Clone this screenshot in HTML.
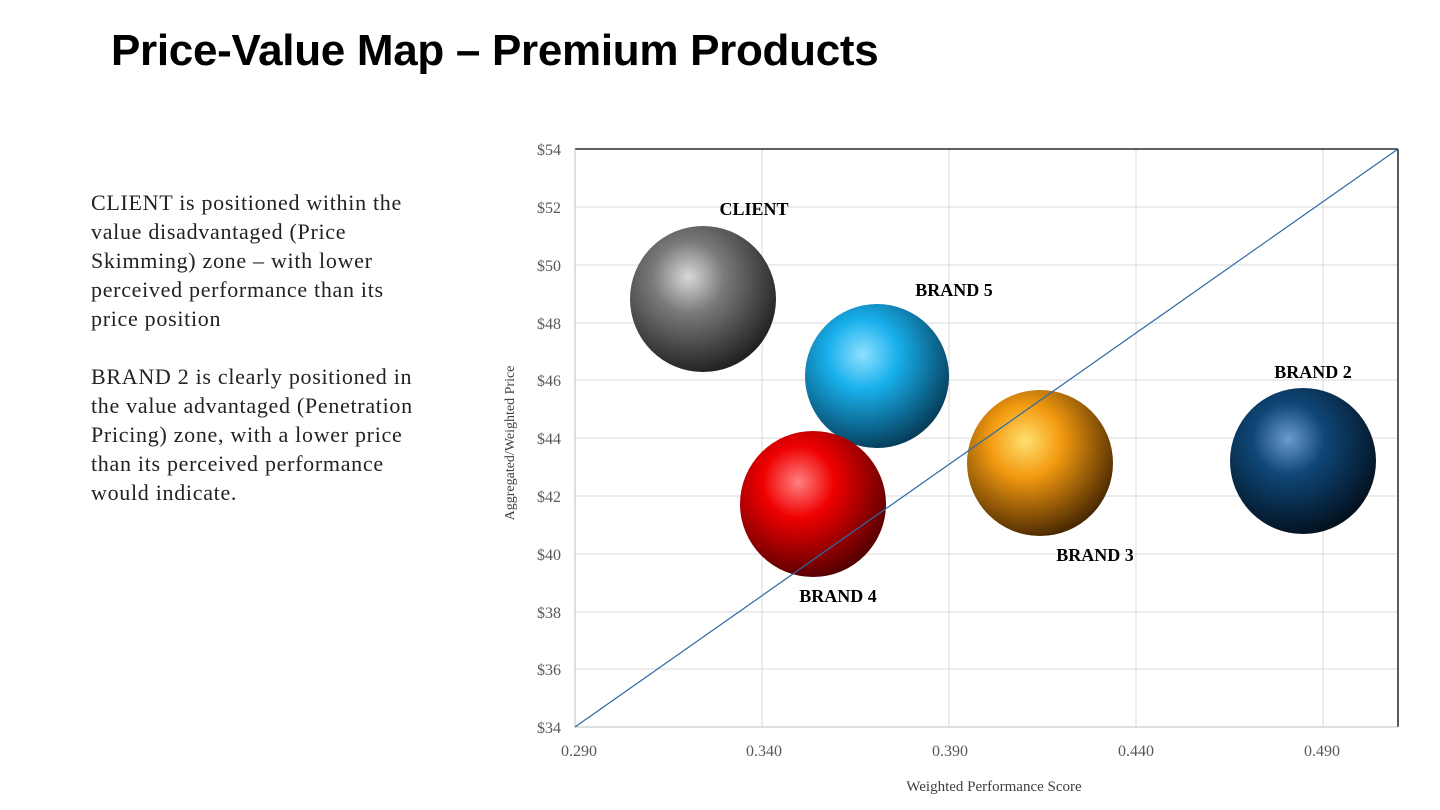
<!DOCTYPE html>
<html><head><meta charset="utf-8"><style>
html,body{margin:0;padding:0;background:#fff;width:1440px;height:810px;overflow:hidden}
.title{position:absolute;left:111px;top:26px;font:bold 44px "Liberation Sans",sans-serif;color:#000;letter-spacing:-0.3px}
.body{position:absolute;left:91px;top:188px;width:420px;font:22px/29px "Liberation Serif",serif;color:#222;letter-spacing:0.7px;white-space:nowrap}
.body p{margin:0 0 29px 0}
</style></head><body>
<div class="title">Price-Value Map – Premium Products</div>
<div class="body">
<p>CLIENT is positioned within the<br>value disadvantaged (Price<br>Skimming) zone – with lower<br>perceived performance than its<br>price position</p>
<p>BRAND 2 is clearly positioned in<br>the value advantaged (Penetration<br>Pricing) zone, with a lower price<br>than its perceived performance<br>would indicate.</p>
</div>
<svg width="1440" height="810" style="position:absolute;left:0;top:0" xmlns="http://www.w3.org/2000/svg">
<defs>
<radialGradient id="g1" cx="0.4" cy="0.35" r="0.7"><stop offset="0" stop-color="#d8d8d8"/><stop offset="0.35" stop-color="#7a7a7a"/><stop offset="1" stop-color="#1a1a1a"/></radialGradient>
<radialGradient id="g5" cx="0.4" cy="0.35" r="0.7"><stop offset="0" stop-color="#8fe0ff"/><stop offset="0.35" stop-color="#18b0ec"/><stop offset="1" stop-color="#04344f"/></radialGradient>
<radialGradient id="g4" cx="0.4" cy="0.35" r="0.7"><stop offset="0" stop-color="#ff8080"/><stop offset="0.35" stop-color="#f00000"/><stop offset="1" stop-color="#4a0000"/></radialGradient>
<radialGradient id="g3" cx="0.4" cy="0.35" r="0.7"><stop offset="0" stop-color="#ffe070"/><stop offset="0.35" stop-color="#f39a10"/><stop offset="1" stop-color="#3d2000"/></radialGradient>
<radialGradient id="g2" cx="0.4" cy="0.35" r="0.7"><stop offset="0" stop-color="#6a9ccc"/><stop offset="0.35" stop-color="#0f4778"/><stop offset="1" stop-color="#010d18"/></radialGradient>
</defs>
<g stroke="#d9d9d9" stroke-width="1">
<line x1="575" y1="207" x2="1398" y2="207"/><line x1="575" y1="265" x2="1398" y2="265"/>
<line x1="575" y1="323" x2="1398" y2="323"/><line x1="575" y1="380" x2="1398" y2="380"/>
<line x1="575" y1="438" x2="1398" y2="438"/><line x1="575" y1="496" x2="1398" y2="496"/>
<line x1="575" y1="554" x2="1398" y2="554"/><line x1="575" y1="612" x2="1398" y2="612"/>
<line x1="575" y1="669" x2="1398" y2="669"/>
<line x1="762" y1="149" x2="762" y2="727"/><line x1="949" y1="149" x2="949" y2="727"/>
<line x1="1136" y1="149" x2="1136" y2="727"/><line x1="1323" y1="149" x2="1323" y2="727"/>
</g>
<line x1="575" y1="149" x2="1398" y2="149" stroke="#000" stroke-width="1.3"/>
<line x1="1398" y1="149" x2="1398" y2="727" stroke="#000" stroke-width="1.3"/>
<line x1="575" y1="149" x2="575" y2="727" stroke="#bfbfbf"/>
<line x1="575" y1="727" x2="1398" y2="727" stroke="#bfbfbf"/>
<g font-family="Liberation Serif,serif" font-size="16" fill="#595959" text-anchor="end">
<text x="561" y="155">$54</text><text x="561" y="213">$52</text><text x="561" y="271">$50</text>
<text x="561" y="329">$48</text><text x="561" y="386">$46</text><text x="561" y="444">$44</text>
<text x="561" y="502">$42</text><text x="561" y="560">$40</text><text x="561" y="618">$38</text>
<text x="561" y="675">$36</text><text x="561" y="733">$34</text>
</g>
<g font-family="Liberation Serif,serif" font-size="16" fill="#595959" text-anchor="middle">
<text x="579" y="756">0.290</text><text x="764" y="756">0.340</text><text x="950" y="756">0.390</text>
<text x="1136" y="756">0.440</text><text x="1322" y="756">0.490</text>
</g>
<text x="994" y="791" font-family="Liberation Serif,serif" font-size="15" fill="#404040" text-anchor="middle">Weighted Performance Score</text>
<text transform="translate(514,443) rotate(-90)" font-family="Liberation Serif,serif" font-size="14" fill="#404040" text-anchor="middle">Aggregated/Weighted Price</text>
<circle cx="703" cy="299" r="73" fill="url(#g1)"/>
<circle cx="877" cy="376" r="72" fill="url(#g5)"/>
<circle cx="1040" cy="463" r="73" fill="url(#g3)"/>
<circle cx="1303" cy="461" r="73" fill="url(#g2)"/>
<circle cx="813" cy="504" r="73" fill="url(#g4)"/>
<line x1="575" y1="727" x2="1398" y2="149" stroke="#2e6aa8" stroke-width="1.2"/>
<g font-family="Liberation Serif,serif" font-size="18" font-weight="bold" fill="#000" text-anchor="middle">
<text x="754" y="215">CLIENT</text><text x="954" y="296">BRAND 5</text><text x="1313" y="378">BRAND 2</text>
<text x="1095" y="561">BRAND 3</text><text x="838" y="602">BRAND 4</text>
</g>
</svg>
</body></html>
